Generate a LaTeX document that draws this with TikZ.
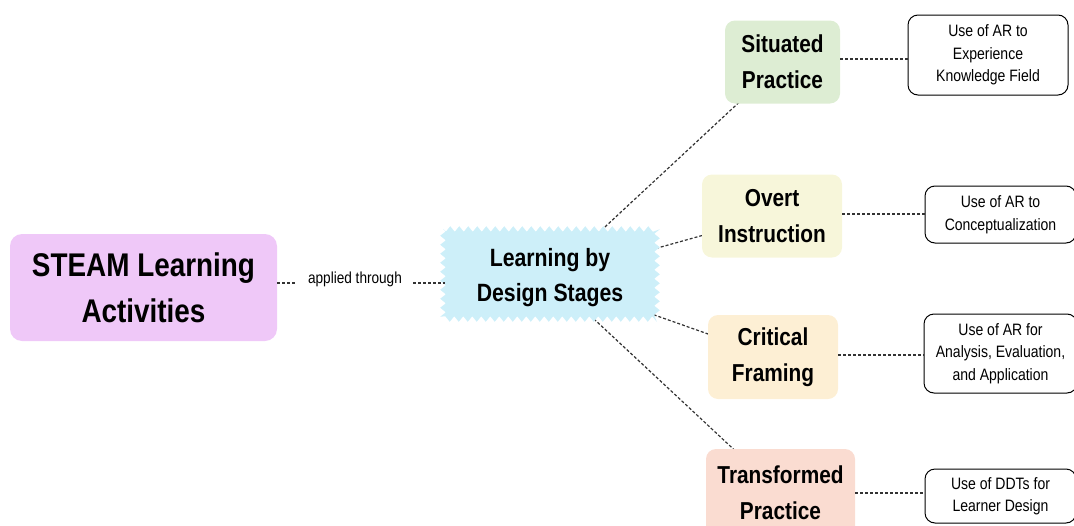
\documentclass[tikz,border=0pt]{standalone}
\usepackage{fontspec}
\setmainfont[FakeStretch=0.85]{Liberation Sans}
\usetikzlibrary{decorations.pathmorphing}
\pgfdeclarelayer{edges}
\pgfdeclarelayer{bg}
\pgfsetlayers{edges,bg,main}
\definecolor{steamc}{HTML}{EFC8F8}
\definecolor{lbdc}{HTML}{CDEFF9}
\definecolor{sitc}{HTML}{DDEDD3}
\definecolor{ovc}{HTML}{F7F6DA}
\definecolor{critc}{HTML}{FDEFD4}
\definecolor{trc}{HTML}{FADCD1}
\definecolor{linec}{HTML}{333333}
\tikzset{
  stagebox/.style={rounded corners=10pt, align=center, inner sep=0pt,
    font=\bfseries\fontsize{24.5}{36}\selectfont},
  usebox/.style={draw=black, line width=1pt, rounded corners=10pt, fill=white,
    align=center, inner sep=0pt, font=\fontsize{16.5}{22.5}\selectfont},
  conn/.style={draw=linec, line width=1.2pt, dash pattern=on 3pt off 2pt}
}
\begin{document}
\begin{tikzpicture}[x=1pt,y=-1pt]
\useasboundingbox (0,0) rectangle (1074,525);

% main nodes
\node[rounded corners=12pt, fill=steamc, align=center, inner sep=0pt,
      minimum width=267pt, minimum height=107pt,
      font=\bfseries\fontsize{32.8}{46}\selectfont] (steam) at (143.5,287.5) {STEAM Learning\\Activities};
\node[inner xsep=11pt, inner ysep=1pt, font=\fontsize{16}{19}\selectfont] (applied) at (355,279) {applied through};
\node[align=center, inner sep=0pt, minimum width=210pt, minimum height=80pt,
      font=\bfseries\fontsize{25}{35}\selectfont] (lbd) at (550,278) {Learning by\\Design Stages};
\begin{pgfonlayer}{bg}
\fill[lbdc, decorate, decoration={zigzag, segment length=9pt, amplitude=2.8pt}]
  ([shift={(-107,-49)}]lbd.center) rectangle ([shift={(107,41)}]lbd.center);
\end{pgfonlayer}

% stages
\node[stagebox, fill=sitc, minimum width=115pt, minimum height=83pt] (sit) at (782.5,62) {Situated\\Practice};
\node[stagebox, fill=ovc, minimum width=140pt, minimum height=83pt] (ov) at (772,216) {Overt\\Instruction};
\node[stagebox, fill=critc, minimum width=130pt, minimum height=84pt] (crit) at (773,357) {Critical\\Framing};
\node[stagebox, fill=trc, minimum width=149pt, minimum height=88pt] (tr) at (780.5,493) {Transformed\\Practice};

% use boxes
\node[usebox, minimum width=160pt, minimum height=80pt] (u1) at (988,55) {Use of AR to\\Experience\\Knowledge Field};
\node[usebox, minimum width=151pt, minimum height=57pt] (u2) at (1000.5,214.5) {Use of AR to\\Conceptualization};
\node[usebox, minimum width=153pt, minimum height=79pt] (u3) at (1000.5,353.5) {Use of AR for\\Analysis, Evaluation,\\and Application};
\node[usebox, minimum width=151pt, minimum height=54pt] (u4) at (1000.5,496) {Use of DDTs for\\Learner Design};

% connectors
\draw[conn] (steam.east |- 0,283) -- (applied.west |- 0,283);
\draw[conn] (applied.east |- 0,283) -- (lbd.west |- 0,283);
\begin{pgfonlayer}{edges}
\draw[conn] (lbd.center) -- (sit.center);
\draw[conn] (lbd.center) -- (ov.center);
\draw[conn] (lbd.center) -- (crit.center);
\draw[conn] (lbd.center) -- (tr.center);
\end{pgfonlayer}
\draw[conn] (sit.east |- 0,59) -- (u1.west |- 0,59);
\draw[conn] (ov.east |- 0,214) -- (u2.west |- 0,214);
\draw[conn] (crit.east |- 0,355) -- (u3.west |- 0,355);
\draw[conn] (tr.east |- 0,493) -- (u4.west |- 0,493);
\end{tikzpicture}
\end{document}
